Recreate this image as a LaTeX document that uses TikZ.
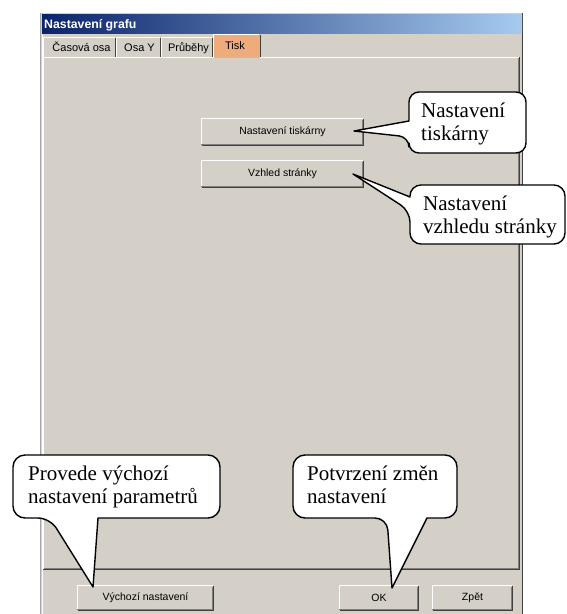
\documentclass[tikz,border=0pt]{standalone}
\usepackage{fontspec}
\setmainfont{Liberation Serif}
\newfontfamily\uifont{Liberation Sans}
\definecolor{wingray}{HTML}{D4D0C8}
\definecolor{darkgr}{HTML}{404040}
\definecolor{midgr}{HTML}{808080}
\definecolor{tbdark}{HTML}{0A246A}
\definecolor{tblight}{HTML}{A6CAF0}
\definecolor{tabsel}{RGB}{238,172,124}
\tikzset{
  btn/.style={fill=wingray, inner sep=0pt, font=\uifont\fontsize{10.5}{12}\selectfont},
  tablabel/.style={anchor=base, inner sep=0pt, font=\uifont\fontsize{11}{13}\selectfont},
  calltext/.style={anchor=base west, inner sep=0pt, font=\fontsize{21}{23}\selectfont},
  callout/.style={draw=black, fill=white, line width=1.4pt, line join=round},
}
\newcommand{\uibtn}[6]{%
  \node[btn, minimum width={#4-#2}, minimum height={#5-#3}] (#1) at ({(#2+#4)/2},{(#3+#5)/2}) {#6};
  \draw[white, line width=1pt] (#1.south west) |- (#1.north east);
  \draw[midgr, line width=1pt] ([xshift=-1pt,yshift=1pt]#1.south west) -| ([xshift=-1pt,yshift=-1pt]#1.north east);
  \draw[darkgr, line width=0.8pt] (#1.south west) -| (#1.north east);
}
\begin{document}
\begin{tikzpicture}[x=1pt,y=-1pt]
\useasboundingbox (0,0) rectangle (566,614);
\fill[white] (0,0) rectangle (566,614);
% window
\fill[wingray] (41,13) rectangle (523,614);
\draw[midgr!70, line width=1pt] (40.5,13) -- (40.5,614);
\draw[white, line width=0.8pt] (42.5,34) -- (42.5,614);
\draw[darkgr, line width=1pt] (522.5,13) -- (522.5,614);
% title bar
\shade[left color=tbdark, right color=tblight] (42,14) rectangle (522,33);
\node[anchor=base west, inner sep=0pt, text=white, font=\uifont\bfseries\fontsize{12.3}{14}\selectfont] (title) at (44,28) {Nastavení grafu};
% tab panel
\draw[white, line width=1pt] (43.5,569) -- (43.5,57.5) -- (519,57.5);
\draw[midgr, line width=1pt] (518.5,58) -- (518.5,568.5) -- (44,568.5);
\draw[darkgr, line width=1pt] (519.5,57) -- (519.5,569.5) -- (43,569.5);
% tabs
\foreach \xa/\xb in {43/116, 116/161, 161/213}{
  \draw[white, line width=1pt] (\xa+0.5,57) -- (\xa+0.5,37.5) -- (\xb-1,37.5);
  \draw[darkgr, line width=1pt] (\xb-0.5,38) -- (\xb-0.5,57);
}
\fill[tabsel] (213,34) rectangle (260,58);
\draw[white, line width=1pt] (213.5,58) -- (213.5,34.5) -- (259,34.5);
\draw[darkgr, line width=1pt] (260.5,35) -- (260.5,57);
\node[tablabel] (t1) at (81.5,51) {Časová osa};
\node[tablabel] (t2) at (139.5,51) {Osa Y};
\node[tablabel] (t3) at (188.5,51) {Průběhy};
\node[tablabel] (t4) at (235,49) {Tisk};
% buttons
\uibtn{b1}{202}{119}{363}{145}{Nastavení tiskárny}
\uibtn{b2}{202}{161}{363}{187}{Vzhled stránky}
\uibtn{b3}{78}{586}{213}{610}{Výchozí nastavení}
\uibtn{b4}{340}{586}{418}{610}{OK}
\uibtn{b5}{433}{586}{512}{610}{Zpět}
% callout tips
\coordinate (tipA) at (354,131);
\coordinate (tipB) at (353,174);
\coordinate (tipC) at (93,587);
\coordinate (tipD) at (392,588);
% callouts
\draw[callout] (409,121) [rounded corners=10pt] -- (409,92) -- (526,92) -- (526,153) -- (409,153) -- (409,137) [sharp corners] -- (tipA) -- cycle;
\draw[callout] (410,197) [rounded corners=11pt] -- (410,185) -- (565,185) -- (565,244) -- (410,244) -- (410,211) [sharp corners] -- (tipB) -- cycle;
\draw[callout] (98,518) [rounded corners=12pt] -- (220,518) -- (220,455) -- (13,455) -- (13,518) -- (50,518) [sharp corners] -- (tipC) -- cycle;
\draw[callout] (427,518) [rounded corners=12pt] -- (457,518) -- (457,455) -- (293,455) -- (293,518) -- (387,518) [sharp corners] -- (tipD) -- cycle;
% callout texts
\node[calltext] (c1a) at (421,117) {Nastavení};
\node[calltext] (c1b) at (421,140) {tiskárny};
\node[calltext] (c2a) at (423,210) {Nastavení};
\node[calltext] (c2b) at (423,233) {vzhledu stránky};
\node[calltext] (c3a) at (28,480) {Provede výchozí};
\node[calltext] (c3b) at (28,503) {nastavení parametrů};
\node[calltext] (c4a) at (307,480) {Potvrzení změn};
\node[calltext] (c4b) at (307,503) {nastavení};
\end{tikzpicture}
\end{document}
